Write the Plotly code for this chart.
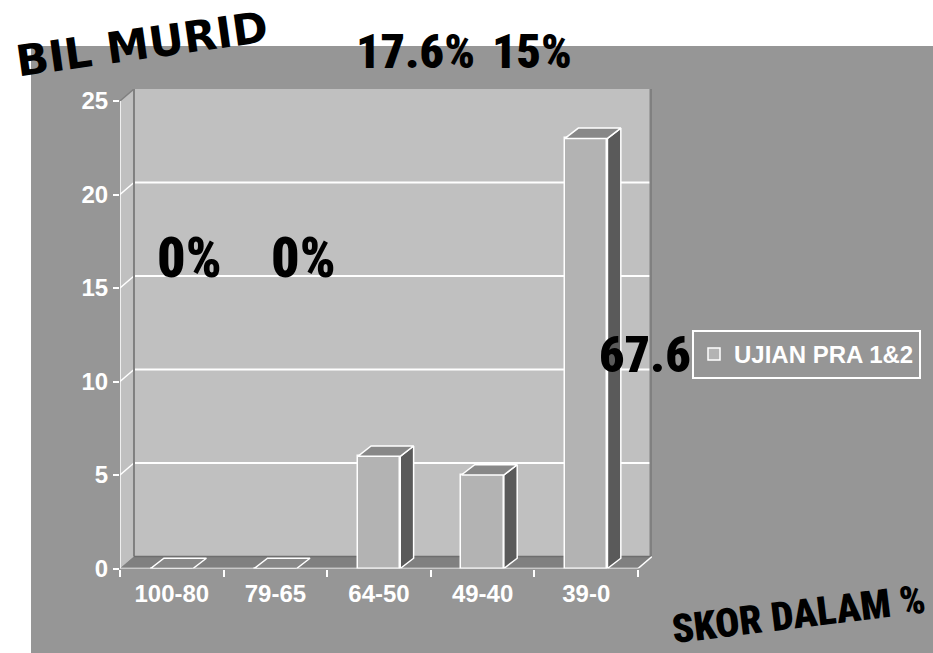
import plotly.graph_objects as go

# ---------------- data ----------------
categories = ["100-80", "79-65", "64-50", "49-40", "39-0"]
values = [0, 0, 6, 5, 23]
series_name = "UJIAN PRA 1&2"
y_ticks = [0, 5, 10, 15, 20, 25]
pct_labels = ["0%", "0%", "17.6%", "15%", "67.6"]
y_title = "BIL MURID"
x_title = "SKOR DALAM %"

# ---------------- geometry / style ----------------
W, H = 933, 653
PL, PR = 120, 652        # plot area left/right (px)
PB, PT = 568.5, 89       # plot area bottom/top (px)
DX, DY = 0.135, 0.642    # wall depth (category units, value units)
BW = 0.41                # bar width
BDX, BDY = 0.129, 0.55   # bar depth

OUTER = "#969696"
WALL = "#c0c0c0"
FLOOR = "#808080"
EDGE = "#808080"
FRONT = "#b3b3b3"
SIDE = "#5a5a5a"
TOP = "#888888"

LABEL_FONT = "Liberation Sans, Arial, sans-serif"
CONDENSED = ("Noto Sans ExtraCondensed Black, Noto Sans ExtraCondensed, Roboto Condensed, "
             "Liberation Sans Narrow, Liberation Sans, sans-serif")

n = len(categories)
xs = list(range(n))
x0, x1 = -0.5, n - 0.5
ymax = y_ticks[-1]


def px(xp):
    return xp / W


def py(yp):
    return 1 - yp / H


fig = go.Figure()

# front faces of bars
fig.add_trace(go.Bar(
    x=xs, y=values, width=BW, name=series_name,
    marker=dict(color=FRONT, line=dict(color="white", width=1.5)),
    showlegend=True, hoverinfo="y"))

# side and top faces
for xi, v in zip(xs, values):
    l, r = xi - BW / 2, xi + BW / 2
    if v > 0:
        fig.add_trace(go.Scatter(
            x=[r, r + BDX, r + BDX, r, r], y=[0, BDY, v + BDY, v, 0],
            fill="toself", fillcolor=SIDE, mode="lines",
            line=dict(color="white", width=1.5), showlegend=False, hoverinfo="skip"))
    fig.add_trace(go.Scatter(
        x=[l, r, r + BDX, l + BDX, l], y=[v, v, v + BDY, v + BDY, v],
        fill="toself", fillcolor=TOP, mode="lines",
        line=dict(color="white", width=1.5), showlegend=False, hoverinfo="skip"))

# ---------------- walls, floor, gridlines (shapes below traces) ----------------
shapes = []
shapes.append(dict(type="rect", xref="paper", yref="paper", x0=px(31), x1=1, y0=0, y1=py(46),
                   fillcolor=OUTER, line=dict(width=0), layer="below"))
shapes.append(dict(type="rect", xref="x", yref="y", x0=x0 + DX, x1=x1 + DX, y0=DY, y1=ymax + DY,
                   fillcolor=WALL, line=dict(width=0), layer="below"))
shapes.append(dict(type="path", xref="x", yref="y",
                   path=f"M {x0},{0} L {x0 + DX},{DY} L {x0 + DX},{ymax + DY} L {x0},{ymax} Z",
                   fillcolor=WALL, line=dict(width=0), layer="below"))
shapes.append(dict(type="path", xref="x", yref="y",
                   path=f"M {x0},{0} L {x1},{0} L {x1 + DX},{DY} L {x0 + DX},{DY} Z",
                   fillcolor=FLOOR, line=dict(width=0), layer="below"))
for v in y_ticks[1:]:
    col = "white" if v < ymax else EDGE
    if v < ymax:
        shapes.append(dict(type="line", xref="x", yref="y", x0=x0 + DX, x1=x1 + DX, y0=v + DY, y1=v + DY,
                           line=dict(color="white", width=2), layer="below"))
    shapes.append(dict(type="line", xref="x", yref="y", x0=x0, x1=x0 + DX, y0=v, y1=v + DY,
                       line=dict(color=col, width=1.5), layer="below"))
shapes.append(dict(type="line", xref="x", yref="y", x0=x0 + DX, x1=x0 + DX, y0=DY, y1=ymax + DY,
                   line=dict(color=EDGE, width=2), layer="below"))
shapes.append(dict(type="line", xref="x", yref="y", x0=x1 + DX, x1=x1 + DX, y0=DY, y1=ymax + DY,
                   line=dict(color=EDGE, width=5), layer="below"))
shapes.append(dict(type="line", xref="x", yref="y", x0=x0 + DX, x1=x1 + DX, y0=DY, y1=DY,
                   line=dict(color="#6e6e6e", width=1.5), layer="below"))
shapes.append(dict(type="line", xref="x", yref="y", x0=x0, x1=x1, y0=0, y1=0,
                   line=dict(color="white", width=1.5), layer="below"))
shapes.append(dict(type="line", xref="x", yref="y", x0=x1, x1=x1 + DX, y0=0, y1=DY,
                   line=dict(color="white", width=1.5), layer="below"))
shapes.append(dict(type="line", xref="x", yref="y", x0=x0, x1=x0, y0=0, y1=ymax,
                   line=dict(color="white", width=1.5), layer="below"))

# ---------------- annotations ----------------
ann = []
label_pos = [(189, 258), (303, 258), (415, 51), (532, 51), (645, 355)]
label_size = [56, 56, 48, 48, 50]
for t, (ax_, ay_), s in zip(pct_labels, label_pos, label_size):
    ann.append(dict(text=t, xref="paper", yref="paper", x=px(ax_), y=py(ay_),
                    xanchor="center", yanchor="middle", showarrow=False,
                    font=dict(family=CONDENSED, size=s, color="black", weight=900)))
ann.append(dict(text=y_title, xref="paper", yref="paper", x=px(142), y=py(44),
                xanchor="center", yanchor="middle", showarrow=False, textangle=-8,
                font=dict(family="DejaVu Sans, sans-serif", size=43, color="black",
                          weight="bold")))
ann.append(dict(text=x_title, xref="paper", yref="paper", x=px(798), y=py(614),
                xanchor="center", yanchor="middle", showarrow=False, textangle=-7,
                font=dict(family=CONDENSED, size=40, color="black", weight=900)))

tick_font = dict(family=LABEL_FONT, size=24, color="white", weight="bold")

fig.update_layout(
    width=W, height=H, autosize=False,
    margin=dict(l=0, r=0, t=0, b=0, pad=0, autoexpand=False),
    paper_bgcolor="white", plot_bgcolor=OUTER,
    shapes=shapes, annotations=ann,
    bargap=0,
    xaxis=dict(domain=[px(PL), px(PR)], range=[x0, x1 + DX], automargin=False,
               tickmode="array", tickvals=xs, ticktext=categories, ticks="",
               showgrid=False, zeroline=False, showline=False, tickfont=tick_font,
               ticklabelstandoff=8,
               minor=dict(tickmode="array", tickvals=[x0 + i for i in range(n + 1)],
                          ticks="outside", ticklen=7, tickcolor="white", tickwidth=1.5,
                          showgrid=False),
               fixedrange=True),
    yaxis=dict(domain=[py(PB), py(PT)], range=[0, ymax + DY], automargin=False,
               tickmode="array", tickvals=y_ticks, ticks="outside", ticklen=6,
               tickcolor="white", tickwidth=1.5,
               showgrid=False, zeroline=False, showline=False, tickfont=tick_font,
               fixedrange=True),
    legend=dict(x=px(692), y=py(330), xanchor="left", yanchor="top",
                bgcolor="rgba(0,0,0,0)", bordercolor="white", borderwidth=2,
                font=dict(family=LABEL_FONT, size=24, color="white", weight="bold")),
    showlegend=True,
)

fig.write_html("out.html", config={"displayModeBar": False},
               post_script="document.body.style.margin='0';document.body.style.overflow='hidden';")
